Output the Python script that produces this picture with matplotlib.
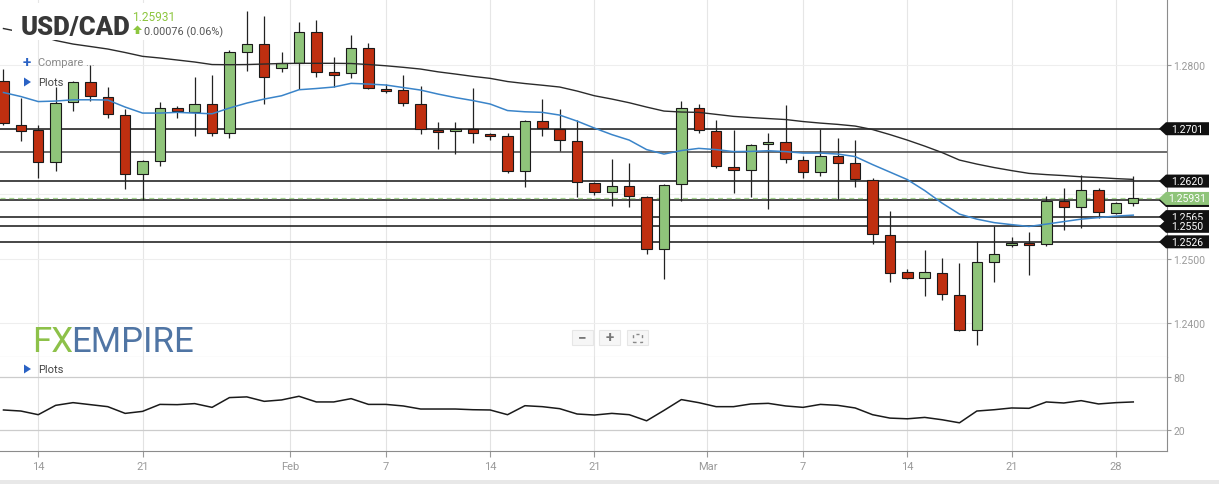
import numpy as np
import pandas as pd
import matplotlib
matplotlib.use('Agg')
import matplotlib.pyplot as plt
from matplotlib.patches import Polygon, Rectangle
from matplotlib.transforms import blended_transform_factory

plt.rcParams['font.family'] = ['Roboto', 'DejaVu Sans']

# ------------------------------------------------------------------
# data (daily candles, Sunday sessions included, no Saturdays)
# ------------------------------------------------------------------
dates = pd.date_range('2022-01-12', '2022-03-29')
dates = dates[dates.dayofweek != 5]

opens = [1.2775, 1.2707, 1.2699, 1.2649, 1.2742, 1.2773, 1.2750, 1.2722, 1.2631, 1.2651,
         1.2733, 1.2727, 1.2739, 1.2694, 1.2820, 1.2832, 1.2795, 1.2803, 1.2851, 1.2789,
         1.2787, 1.2826, 1.2762, 1.2761, 1.2739, 1.2699, 1.2697, 1.2700, 1.2693, 1.2690,
         1.2635, 1.2713, 1.2700, 1.2682, 1.2617, 1.2603, 1.2612, 1.2595, 1.2515, 1.2615,
         1.2733, 1.2697, 1.2642, 1.2637, 1.2677, 1.2680, 1.2652, 1.2634, 1.2659, 1.2648,
         1.2622, 1.2536, 1.2479, 1.2470, 1.2478, 1.2443, 1.2389, 1.2495, 1.2521, 1.2524,
         1.2522, 1.2589, 1.2580, 1.2606, 1.2570, 1.25855]
highs = [1.2793, 1.2748, 1.2707, 1.2765, 1.2775, 1.2800, 1.2766, 1.2731, 1.2652, 1.2742,
         1.2736, 1.2781, 1.2784, 1.2823, 1.2883, 1.2875, 1.2820, 1.2866, 1.2869, 1.2812,
         1.2846, 1.2834, 1.2770, 1.2784, 1.2767, 1.2711, 1.2711, 1.2764, 1.2694, 1.2694,
         1.2714, 1.2747, 1.2731, 1.2714, 1.2618, 1.2654, 1.2648, 1.2597, 1.2615, 1.2744,
         1.2739, 1.2714, 1.2699, 1.2677, 1.2694, 1.2738, 1.2659, 1.2700, 1.2687, 1.2683,
         1.2625, 1.2574, 1.2484, 1.2513, 1.2501, 1.2493, 1.2527, 1.2550, 1.2533, 1.2541,
         1.2597, 1.2609, 1.2629, 1.2609, 1.2587, 1.2628]
lows = [1.2707, 1.2682, 1.2625, 1.2635, 1.2728, 1.2744, 1.2718, 1.2608, 1.2591, 1.2643,
        1.2718, 1.2690, 1.2690, 1.2687, 1.2790, 1.2739, 1.2789, 1.2762, 1.2781, 1.2766,
        1.2779, 1.2763, 1.2756, 1.2736, 1.2693, 1.2670, 1.2662, 1.2679, 1.2683, 1.2632,
        1.2611, 1.2690, 1.2666, 1.2595, 1.2598, 1.2581, 1.2580, 1.2507, 1.2468, 1.2589,
        1.2694, 1.2640, 1.2601, 1.2595, 1.2577, 1.2648, 1.2625, 1.2628, 1.2592, 1.2611,
        1.2522, 1.2464, 1.2469, 1.2442, 1.2436, 1.2388, 1.2366, 1.2464, 1.2518, 1.2474,
        1.2519, 1.2544, 1.2547, 1.2563, 1.2569, 1.2581]
closes = [1.2710, 1.2698, 1.2649, 1.2741, 1.2773, 1.2752, 1.2724, 1.2631, 1.2651, 1.2733,
          1.2728, 1.2739, 1.2694, 1.2820, 1.2832, 1.2781, 1.2803, 1.2851, 1.2789, 1.2784,
          1.2826, 1.2764, 1.2759, 1.2741, 1.2700, 1.2696, 1.2700, 1.2694, 1.2690, 1.2635,
          1.2713, 1.2702, 1.2683, 1.2618, 1.2603, 1.2612, 1.2597, 1.2515, 1.2614, 1.2733,
          1.2699, 1.2643, 1.2637, 1.2676, 1.2680, 1.2654, 1.2634, 1.2659, 1.2648, 1.2623,
          1.2538, 1.2478, 1.2470, 1.2479, 1.2445, 1.2389, 1.2495, 1.2507, 1.2524, 1.2521,
          1.2589, 1.2580, 1.2606, 1.2572, 1.25855, 1.25931]

ma_fast = [1.27570, 1.27508, 1.27430, 1.27438, 1.27457, 1.27458, 1.27454, 1.27345, 1.27252, 1.27252,
           1.27263, 1.27252, 1.27241, 1.27330, 1.27407, 1.27469, 1.27520, 1.27613, 1.27632, 1.27655,
           1.27712, 1.27701, 1.27686, 1.27647, 1.27608, 1.27546, 1.27492, 1.27446, 1.27392, 1.27291,
           1.27272, 1.27263, 1.27221, 1.27128, 1.27020, 1.26919, 1.26834, 1.26687, 1.26618, 1.26672,
           1.26706, 1.26687, 1.26656, 1.26659, 1.26669, 1.26656, 1.26633, 1.26633, 1.26618, 1.26579,
           1.26455, 1.26339, 1.26223, 1.26053, 1.25859, 1.25689, 1.25611, 1.25557, 1.25526, 1.25498,
           1.25534, 1.25573, 1.25611, 1.25635, 1.25658, 1.25673]
ma_slow = [1.28560, 1.28506, 1.28460, 1.28375, 1.28320, 1.28282, 1.28243, 1.28189, 1.28130, 1.28104,
           1.28073, 1.28042, 1.28003, 1.28000, 1.28003, 1.28011, 1.28019, 1.28022, 1.28022, 1.28022,
           1.28019, 1.28003, 1.27984, 1.27960, 1.27933, 1.27890, 1.27856, 1.27820, 1.27789, 1.27740,
           1.27709, 1.27683, 1.27655, 1.27593, 1.27520, 1.27469, 1.27412, 1.27345, 1.27283, 1.27268,
           1.27263, 1.27232, 1.27201, 1.27183, 1.27167, 1.27152, 1.27121, 1.27097, 1.27077, 1.27051,
           1.26997, 1.26919, 1.26834, 1.26741, 1.26641, 1.26525, 1.26463, 1.26409, 1.26362, 1.26319,
           1.26300, 1.26285, 1.26266, 1.26254, 1.26238, 1.26226]

rsi = [42.4, 41.2, 37.0, 47.7, 50.8, 48.5, 46.2, 38.5, 40.8, 48.8,
       48.5, 49.7, 45.4, 56.6, 57.4, 52.3, 53.9, 58.1, 51.6, 51.6,
       55.4, 48.8, 48.8, 47.0, 43.5, 43.5, 43.5, 42.7, 42.4, 37.0,
       47.3, 46.2, 43.9, 37.8, 36.6, 38.5, 37.0, 30.0, 41.9, 54.3,
       50.8, 46.2, 46.2, 49.3, 50.0, 47.0, 45.4, 48.8, 47.7, 44.7,
       37.0, 33.1, 32.3, 33.9, 31.2, 27.7, 41.2, 42.7, 44.7, 44.3,
       51.6, 50.4, 53.1, 49.3, 50.8, 51.6]

levels = [1.2701, 1.2665, 1.2620, 1.2590, 1.2565, 1.2550, 1.2526]
tag_levels = [1.2701, 1.2620, 1.2590, 1.2565, 1.2550, 1.2526]
last_price = 1.25931
change = 0.00076
change_pct = 0.06

tick_days = ['2022-01-14', '2022-01-21', '2022-02-01', '2022-02-07', '2022-02-14', '2022-02-21',
             '2022-03-01', '2022-03-07', '2022-03-14', '2022-03-21', '2022-03-28']

# ------------------------------------------------------------------
W, H = 1219, 485
RED = '#bf2f10'
GREEN = '#8fc47a'
fig = plt.figure(figsize=(W / 100, H / 100), dpi=100)
fig.patch.set_facecolor('white')

def fx(px):
    return px / W

def fy(py):
    return 1 - py / H

ax = fig.add_axes([0, fy(358), fx(1167), 358 / H])
ax2 = fig.add_axes([0, fy(452), fx(1167), (452 - 358) / H])

x = np.arange(len(dates))
o = np.array(opens); h = np.array(highs); l = np.array(lows); c = np.array(closes)
up = c >= o
cols = np.where(up, GREEN, RED)

# grid positions from dates
tick_pos, tick_lab = [], []
for d in pd.to_datetime(tick_days):
    i = int(np.where(dates == d)[0][0])
    if d.day == 1:
        tick_pos.append(i - 0.5)
        tick_lab.append(d.strftime('%b'))
    else:
        tick_pos.append(i)
        tick_lab.append(str(d.day))

for a in (ax, ax2):
    a.set_xlim(-0.2, 66.94)
    a.set_xticks(tick_pos)
    for sp in a.spines.values():
        sp.set_visible(False)
    a.set_facecolor('white')

# ---- main price panel
ax.set_ylim(1.23478, 1.29017)
for xv in tick_pos:
    ax.axvline(xv, color='#e6e6e6', lw=0.8, zorder=0)
for yv in [1.24, 1.25, 1.26, 1.27, 1.28]:
    ax.axhline(yv, color='#eeeeee', lw=0.8, zorder=0)

ax.vlines(x, l, h, color='#222222', lw=0.9, zorder=3)
body_lo = np.minimum(o, c)
body_h = np.maximum(np.abs(c - o), 0.00008)
ax.bar(x, body_h, bottom=body_lo, width=0.6, color=cols, edgecolor='#1a1a1a', lw=0.8, zorder=4)

ax.plot(x, ma_slow, color='#2b2b2b', lw=1.0, zorder=5)
ax.plot(x, ma_fast, color='#3a84c9', lw=1.1, zorder=5)

for lv in levels:
    ax.axhline(lv, color='#444444' if lv not in tag_levels else '#151515', lw=1.1, zorder=2)
ax.axhline(last_price, color='#a5d38f', lw=0.9, ls=(0, (4, 3)), zorder=2)

ax.yaxis.tick_right()
ax.set_yticks([1.24, 1.25, 1.26, 1.27, 1.28])
# 1.2600 and 1.2700 sit under the price tags
ax.set_yticklabels(['1.2400', '1.2500', '', '', '1.2800'])
ax.tick_params(axis='y', colors='#9a9a9a', labelsize=7.5, length=3, pad=1.5)
ax.tick_params(axis='x', length=0, labelbottom=False)
ax.spines['right'].set_visible(True)
ax.spines['right'].set_color('#8c8c8c')
ax.spines['bottom'].set_visible(True)
ax.spines['bottom'].set_color('#c8c8c8')

# price tags on the right axis
trans = blended_transform_factory(ax.transAxes, ax.transData)
ppx = (ax.get_ylim()[1] - ax.get_ylim()[0]) / 358.0
hh = 6.5 * ppx
xt, xl, xr = 1159 / 1167, 1166 / 1167, 1209 / 1167

def price_tag(yv, txt, fc, z):
    poly = Polygon([[xt, yv], [xl, yv + hh], [xr, yv + hh], [xr, yv - hh], [xl, yv - hh]],
                   closed=True, transform=trans, facecolor=fc, edgecolor='none',
                   clip_on=False, zorder=z)
    ax.add_patch(poly)
    if txt:
        ax.text(1187 / 1167, yv, txt, transform=trans, color='white', fontsize=7.6,
                ha='center', va='center', clip_on=False, zorder=z + 0.1)

z = 10
for lv in [1.2701, 1.2620]:
    price_tag(lv, '%.4f' % lv, '#111111', z); z += 1
price_tag(1.2590, None, '#111111', z); z += 1   # hidden under the last-price tag
price_tag(last_price, '%.5f' % last_price, GREEN, z); z += 1
for lv in [1.2565, 1.2550, 1.2526]:
    price_tag(lv, '%.4f' % lv, '#111111', z); z += 1

# ---- lower oscillator panel
ax2.set_ylim(-4.6, 103.1)
for xv in tick_pos:
    ax2.axvline(xv, color='#e2e2e2', lw=0.8, zorder=0)
for yv in [20, 80]:
    ax2.axhline(yv, color='#cccccc', lw=0.9, zorder=0)
ax2.plot(x, rsi, color='#1a1a1a', lw=1.1, zorder=3)
ax2.yaxis.tick_right()
ax2.set_yticks([20, 80])
ax2.tick_params(axis='y', colors='#9a9a9a', labelsize=7.5, length=3, pad=1.5)
ax2.set_xticklabels(tick_lab)
ax2.tick_params(axis='x', colors='#9a9a9a', labelsize=8, length=4, pad=3)
for s in ('right', 'bottom'):
    ax2.spines[s].set_visible(True)
    ax2.spines[s].set_color('#8c8c8c')

# ---- header texts
fig.add_artist(Rectangle((fx(12), fy(41)), fx(225) - fx(12), fy(4) - fy(41),
                         transform=fig.transFigure, facecolor='white', edgecolor='none', zorder=5))
fig.text(fx(21), fy(35), 'USD/CAD', fontsize=18.5, fontweight='black', color='#383838',
         va='baseline', ha='left', zorder=6)
fig.text(fx(132), fy(21), '%.5f' % last_price, fontsize=8.6, color='#8dc63f',
         va='baseline', ha='left', zorder=6)
arrow = [(133, 31), (137.5, 26.5), (142, 31), (139.3, 31), (139.3, 35), (135.7, 35), (135.7, 31)]
fig.add_artist(Polygon([(fx(a), fy(b)) for a, b in arrow], closed=True, transform=fig.transFigure,
                       facecolor='#8dc63f', edgecolor='none', zorder=6))
fig.text(fx(144), fy(35), '%.5f (%.2f%%)' % (change, change_pct), fontsize=7.8, color='#555555',
         va='baseline', ha='left', zorder=6)

fig.text(fx(27), fy(63), '+', fontsize=11, fontweight='bold', color='#2a62c4',
         va='center', ha='center', zorder=6)
fig.text(fx(38), fy(63), 'Compare ...', fontsize=8, color='#8a8a8a', va='center', ha='left', zorder=6)
for yy in (83, 370):
    tri = [(24, yy - 4.5), (24, yy + 4.5), (31, yy)]
    fig.add_artist(Polygon([(fx(a), fy(b)) for a, b in tri], closed=True, transform=fig.transFigure,
                           facecolor='#2a62c4', edgecolor='none', zorder=6))
    fig.text(fx(38), fy(yy), 'Plots', fontsize=8, color='#444444', va='center', ha='left', zorder=6)

# watermark logo
renderer = fig.canvas.get_renderer()
t1 = fig.text(fx(32), fy(352), 'FX', fontsize=25, color='#8dc149', va='baseline', ha='left', zorder=6)
bb = t1.get_window_extent(renderer)
fig.text(bb.x1 / W - fx(2), fy(352), 'EMPIRE', fontsize=25, color='#5075a4',
         va='baseline', ha='left', zorder=6)

# zoom buttons
for bx, sym in [(572, '−'), (599, '+'), (627, None)]:
    fig.add_artist(Rectangle((fx(bx), fy(346)), fx(21), 15 / H, transform=fig.transFigure,
                             facecolor='#f6f6f6', edgecolor='#e6e6e6', lw=0.8, zorder=6))
    if sym:
        fig.text(fx(bx + 10.5), fy(338.5), sym, fontsize=11, fontweight='bold', color='#777777',
                 va='center', ha='center', zorder=7)
    else:
        fig.add_artist(Rectangle((fx(bx + 6), fy(342.5)), fx(9), 8 / H, transform=fig.transFigure,
                                 facecolor='none', edgecolor='#888888', lw=1.0,
                                 ls=(0, (2.2, 2.6)), zorder=7))

# bottom frame band
fig.add_artist(Rectangle((0, 0), 1, 4 / H, transform=fig.transFigure,
                         facecolor='#e8e8e8', edgecolor='none', zorder=1))

fig.savefig('out.png', dpi=100)
